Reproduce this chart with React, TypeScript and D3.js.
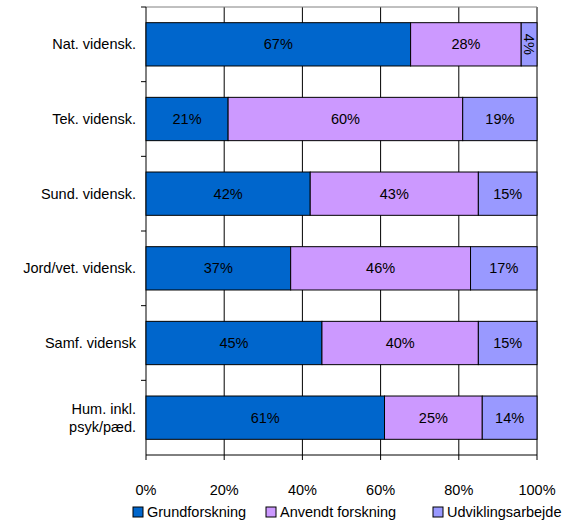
import React from "react";
import * as d3 from "d3";

const categories = ["Nat. vidensk.", "Tek. vidensk.", "Sund. vidensk.", "Jord/vet. vidensk.", "Samf. vidensk", "Hum. inkl.\npsyk/pæd."];
const grund = [67, 21, 42, 37, 45, 61];
const anvendt = [28, 60, 43, 46, 40, 25];
const udvikling = [4, 19, 15, 17, 15, 14];
const seriesNames = ["Grundforskning", "Anvendt forskning", "Udviklingsarbejde"];
const colors = ["#0066CC", "#CC99FF", "#9999FF"];
const ticks = [0, 20, 40, 60, 80, 100];

export default function App() {
  const left = 146, right = 537, top = 7, bottom = 455;
  const fs = 14.5;
  const x = d3.scaleLinear().domain([0, 100]).range([left, right]);
  const y = d3.scaleBand().domain(categories).range([top, bottom]).paddingInner(0.42).paddingOuter(0.21);
  const data = [grund, anvendt, udvikling];
  const font = "Arial, 'Liberation Sans', sans-serif";
  return (
    <svg width={566} height={521} style={{ position: "absolute", left: 0, top: 0, fontFamily: font }}>
      {ticks.slice(1).map(t => (
        <line key={t} x1={x(t)} x2={x(t)} y1={top} y2={bottom} stroke="#000" strokeWidth={1} />
      ))}
      <line x1={left} x2={right} y1={top} y2={top} stroke="#808080" />
      <line x1={left} x2={left} y1={top} y2={bottom} stroke="#000" />
      <line x1={left} x2={right} y1={bottom} y2={bottom} stroke="#000" />
      {categories.map((c, i) => (
        <line key={c} x1={left - 5} x2={left} y1={top + (i * (bottom - top)) / 6} y2={top + (i * (bottom - top)) / 6} stroke="#000" />
      ))}
      {ticks.map(t => (
        <g key={t}>
          <line x1={x(t)} x2={x(t)} y1={bottom} y2={bottom + 5} stroke="#000" />
          <text x={x(t)} y={490} dy="0.35em" textAnchor="middle" fontSize={fs}>{t}%</text>
        </g>
      ))}
      {categories.map((c, i) => {
        const total = grund[i] + anvendt[i] + udvikling[i];
        let acc = 0;
        const by = y(c)!;
        const h = y.bandwidth();
        const lines = c.split("\n");
        return (
          <g key={c}>
            {data.map((s, k) => {
              const v = (s[i] / total) * 100;
              const x0 = x(acc);
              acc += v;
              const x1 = x(acc);
              const cx = (x0 + x1) / 2;
              const cy = by + h / 2;
              const narrow = x1 - x0 < 30;
              return (
                <g key={k}>
                  <rect x={x0} y={by} width={x1 - x0} height={h} fill={colors[k]} stroke="#000" strokeWidth={1} />
                  <text x={cx} y={cy} dy="0.35em" textAnchor="middle" fontSize={fs}
                    transform={narrow ? `rotate(90 ${cx} ${cy})` : undefined}>{s[i]}%</text>
                </g>
              );
            })}
            {lines.map((l, j) => (
              <text key={j} x={left - 10} y={by + h / 2 + (j - (lines.length - 1) / 2) * 18} dy="0.35em" textAnchor="end" fontSize={fs}>{l}</text>
            ))}
          </g>
        );
      })}
      {seriesNames.map((n, k) => {
        const lx = [133, 266, 433][k];
        return (
          <g key={n}>
            <rect x={lx} y={507} width={10} height={10} fill={colors[k]} stroke="#000" />
            <text x={lx + 14} y={512} dy="0.35em" fontSize={fs}>{n}</text>
          </g>
        );
      })}
    </svg>
  );
}
